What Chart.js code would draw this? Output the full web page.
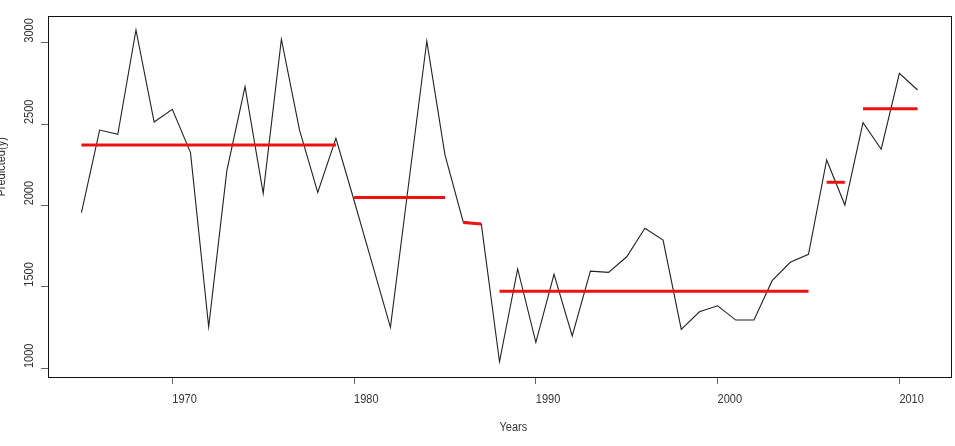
<!DOCTYPE html>
<html lang="en">
<head>
  <meta charset="UTF-8">
  <title>Predicted(y) by year</title>
  <script src="https://cdn.jsdelivr.net/npm/chart.js"></script>
  <style>
    html, body {
      margin: 0;
      padding: 0;
      background: #fff;
    }
    #wrap {
      width: 955px;
      height: 446px;
    }
  </style>
</head>
<body>
<div id="wrap"><canvas id="predChart" width="955" height="446"></canvas></div>

<script>
  // observed series
  const years = [1965, 1966, 1967, 1968, 1969, 1970, 1971, 1972, 1973, 1974,
                 1975, 1976, 1977, 1978, 1979, 1980, 1981, 1982, 1983, 1984,
                 1985, 1986, 1987, 1988, 1989, 1990, 1991, 1992, 1993, 1994,
                 1995, 1996, 1997, 1998, 1999, 2000, 2001, 2002, 2003, 2004,
                 2005, 2006, 2007, 2008, 2009, 2010, 2011];
  const values = [1955, 2463, 2437, 3078, 2512, 2590, 2324, 1254, 2213, 2730,
                  2074, 3021, 2463, 2080, 2412, 2030, 1640, 1250, 2131, 3010,
                  2310, 1900, 1885, 1039, 1609, 1158, 1576, 1197, 1596, 1588,
                  1684, 1859, 1787, 1238, 1346, 1383, 1295, 1295, 1537, 1650,
                  1699, 2279, 2002, 2508, 2345, 2812, 2709];

  // red segment fits
  const segStart    = [1965, 1980, 1986, 1988, 2006, 2008];
  const segEnd      = [1979, 1985, 1987, 2005, 2007, 2011];
  const segStartVal = [2371, 2049, 1894, 1472, 2142, 2594];
  const segEndVal   = [2371, 2049, 1886, 1472, 2142, 2594];

  const xTickVals = [1970, 1980, 1990, 2000, 2010];
  const yTickVals = [1000, 1500, 2000, 2500, 3000];

  const FONT = '"Liberation Sans", Arial, sans-serif';
  const TEXT_COLOR = '#333';
  const SQUEEZE = 0.88; // labels in the original are narrow

  const datasets = [{
    label: 'Predicted(y)',
    data: years.map((yr, i) => ({ x: yr, y: values[i] })),
    borderColor: '#222',
    borderWidth: 1.1,
    pointRadius: 0,
    tension: 0,
    order: 2
  }];
  segStart.forEach((s, i) => {
    datasets.push({
      label: 'fit ' + (i + 1),
      data: [{ x: s, y: segStartVal[i] }, { x: segEnd[i], y: segEndVal[i] }],
      borderColor: '#ee1111',
      borderWidth: 3,
      pointRadius: 0,
      order: 1
    });
  });

  function label(ctx, text, x, y, rotate) {
    ctx.save();
    ctx.translate(x, y);
    if (rotate) ctx.rotate(-Math.PI / 2);
    ctx.scale(SQUEEZE, 1);
    ctx.fillText(text, 0, 0);
    ctx.restore();
  }

  // box round the plot + R-style labels (text starts at its anchor)
  const rStyle = {
    id: 'rStyle',
    afterDraw(chart) {
      const { ctx, chartArea: a, scales } = chart;
      ctx.save();
      ctx.strokeStyle = '#111';
      ctx.lineWidth = 1;
      ctx.strokeRect(a.left + 0.5, a.top + 0.5, a.right - a.left, a.bottom - a.top);

      ctx.fillStyle = TEXT_COLOR;
      ctx.font = '12.5px ' + FONT;
      ctx.textBaseline = 'middle';
      ctx.textAlign = 'left';
      xTickVals.forEach(v => label(ctx, String(v), scales.x.getPixelForValue(v), 400, false));
      label(ctx, 'Years', (a.left + a.right) / 2, 428, false);

      yTickVals.forEach(v => label(ctx, String(v), 30, scales.y.getPixelForValue(v), true));
      label(ctx, 'Predicted(y)', 2, (a.top + a.bottom) / 2, true);
      ctx.restore();
    }
  };

  new Chart(document.getElementById('predChart'), {
    type: 'line',
    data: { datasets: datasets },
    options: {
      responsive: false,
      animation: false,
      layout: { padding: { left: 41, right: 4, top: 16, bottom: 62 } },
      plugins: {
        legend: { display: false },
        tooltip: { enabled: false }
      },
      scales: {
        x: {
          type: 'linear',
          min: 1963.16,
          max: 2012.84,
          afterBuildTicks: s => { s.ticks = xTickVals.map(v => ({ value: v })); },
          ticks: { display: false },
          grid: { drawOnChartArea: false, tickLength: 7, tickColor: '#666', lineWidth: 1 },
          border: { display: false }
        },
        y: {
          type: 'linear',
          min: 945,
          max: 3164,
          afterBuildTicks: s => { s.ticks = yTickVals.map(v => ({ value: v })); },
          ticks: { display: false },
          grid: { drawOnChartArea: false, tickLength: 7, tickColor: '#666', lineWidth: 1 },
          border: { display: false }
        }
      }
    },
    plugins: [rStyle]
  });
</script>
</body>
</html>
